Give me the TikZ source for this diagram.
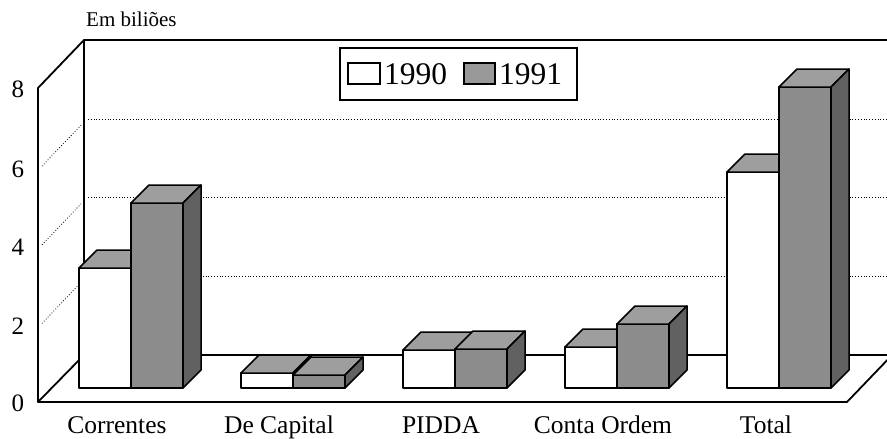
\documentclass[tikz,border=0pt]{standalone}
\usepackage{fontspec}
\setmainfont{Liberation Serif}
\newcommand\mybar[3]{%
  \pgfmathsetmacro\bxa{#1}%
  \pgfmathsetmacro\bxb{#1+52}%
  \pgfmathsetmacro\bxc{#1+70}%
  \pgfmathsetmacro\byt{388-#2}%
  \pgfmathsetmacro\byc{370-#2}%
  \filldraw[barline,fill=#3] (\bxa,388) rectangle (\bxb,\byt);
  \filldraw[barline,topface] (\bxa,\byt) -- (\bxa+18,\byc) -- (\bxc,\byc) -- (\bxb,\byt) -- cycle;
  \filldraw[barline,sideface] (\bxb,388) -- (\bxb,\byt) -- (\bxc,\byc) -- (\bxc,370) -- cycle;
}
\begin{document}
\begin{tikzpicture}[x=1pt,y=-1pt,
  wall/.style={line width=1.8pt, line join=round},
  gridline/.style={dotted, line width=0.8pt},
  barline/.style={draw=black, line width=1.5pt, line join=round},
  topface/.style={fill=black!38},
  sideface/.style={fill=black!62},
  ticklab/.style={font=\fontsize{25}{25}\selectfont, inner sep=0pt},
  catlab/.style={font=\fontsize{25.5}{25.5}\selectfont, anchor=base, inner sep=0pt},
  leglab/.style={font=\fontsize{31.5}{31.5}\selectfont, anchor=west, inner sep=0pt}]
\useasboundingbox (0,0) rectangle (887,439);
\clip (0,0) rectangle (887,439);
\fill[white] (0,0) rectangle (887,439);
% grid lines
\foreach \v in {2,4,6} {
  \draw[gridline] (42,{402-\v*39.3}) -- (81,{361-\v*39.3});
  \draw[gridline] (88,{355-\v*39.3}) -- (890,{355-\v*39.3});
}
% walls and floor
\draw[wall] (38,402) -- (38,88) -- (84,40) -- (895,40);
\draw[wall] (84,40) -- (84,355) -- (895,355);
\draw[wall] (84,355) -- (38,402) -- (847,402) -- (895,352);
% bars
\foreach \x/\a/\b in {79/120/185, 241/15/13, 403/38/39, 565/41/64, 727/216/301} {
  \mybar{\x}{\a}{white}
  \mybar{\x+52}{\b}{black!45}
}
% legend
\node[draw, line width=1.5pt, fill=white, minimum width=237pt, minimum height=52pt, anchor=north west, inner sep=0pt] (legend) at (339,47) {};
\draw[line width=1.3pt, fill=white] (348,63) rectangle (380,84);
\node[leglab] (l90) at (384,74) {1990};
\draw[line width=1.3pt, fill=black!40] (464,63) rectangle (495,84);
\node[leglab] (l91) at (499,74) {1991};
% units
\node[font=\fontsize{21}{21}\selectfont, anchor=base west, inner sep=0pt] (unit) at (86,27) {Em biliões};
% tick labels
\node[ticklab] (t8) at (18,89.5) {8};
\node[ticklab] (t6) at (18,169) {6};
\node[ticklab] (t4) at (18,247) {4};
\node[ticklab] (t2) at (18,326) {2};
\node[ticklab] (t0) at (18,403.5) {0};
% category labels
\node[catlab] (c1) at (117,433) {Correntes};
\node[catlab] (c2) at (279,433) {De Capital};
\node[catlab] (c3) at (441,433) {PIDDA};
\node[catlab] (c4) at (603,433) {Conta Ordem};
\node[catlab] (c5) at (766,433) {Total};
\end{tikzpicture}
\end{document}
